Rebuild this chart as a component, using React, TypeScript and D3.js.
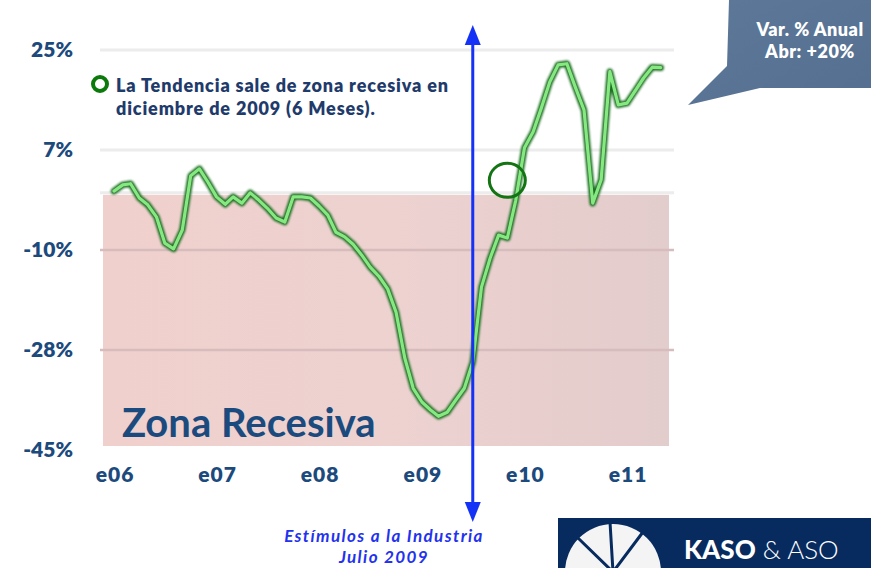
import React from "react";
import * as d3 from "d3";

const startYear = 2006;
const values: number[] = [
  0.3, 1.4, 1.6, -0.9, -2.1, -4.2, -8.8, -9.8, -6.5, 3.0, 4.2, 1.9,
  -0.7, -2.0, -0.7, -1.8, 0.0, -1.3, -2.7, -4.4, -5.1, -0.7, -0.7, -0.9,
  -2.3, -3.9, -6.9, -7.7, -9.0, -10.9, -13.0, -14.6, -16.8, -20.9, -28.9, -34.2,
  -36.6, -38.0, -39.1, -38.4, -36.3, -34.2, -29.6, -16.5, -11.4, -7.4, -7.9, -1.3,
  7.9, 10.7, 14.7, 19.4, 22.4, 22.6, 18.5, 14.5, -1.8, 2.3, 21.2, 15.4,
  15.7, 18.0, 20.1, 22.0, 21.9,
];
const yTicks: number[] = [25, 7.5, -10, -27.5, -45];
const yTickLabels: string[] = ["25%", "7%", "-10%", "-28%", "-45%"];
const xTickYears: number[] = [2006, 2007, 2008, 2009, 2010, 2011];
const xTickLabels: string[] = ["e06", "e07", "e08", "e09", "e10", "e11"];
const recessionRange: [number, number] = [0, -45];
const stimulusDate = new Date(2009, 6, 1);
const exitDate = new Date(2009, 10, 1);
const exitValue = 2.2;
const legendLines: string[] = ["La Tendencia sale de zona recesiva en", "diciembre de 2009 (6 Meses)."];
const calloutLines: string[] = ["Var. % Anual", "Abr: +20%"];
const stimulusLines: string[] = ["Estímulos a la Industria", "Julio 2009"];

export default function App() {
  const W = 871, H = 568;
  const x = d3.scaleTime().domain([new Date(2006, 0, 1), new Date(2011, 0, 1)]).range([114, 627]);
  const y = d3.scaleLinear().domain([-45, 25]).range([450, 50]);
  const data = values.map((v, i) => ({ date: new Date(startYear, i, 1), v }));
  const line = d3.line<{ date: Date; v: number }>().x((d) => x(d.date)).y((d) => y(d.v)).curve(d3.curveLinear);
  const path = line(data) || "";
  const plotL = 103, plotR = 669;
  const navy = "#1d4a7c";
  const ax = x(stimulusDate);
  const font = "Lato, 'Open Sans', sans-serif";
  return (
    <svg width={W} height={H} style={{ position: "absolute", left: 0, top: 0, background: "#fff" }} fontFamily={font}>
      <defs>
        <linearGradient id="pink" x1="0" y1="0" x2="1" y2="0">
          <stop offset="0" stopColor="#f0d0cd" />
          <stop offset="0.5" stopColor="#edd2d0" />
          <stop offset="1" stopColor="#e3cccc" />
        </linearGradient>
        <filter id="blur1" x="-5%" y="-5%" width="110%" height="110%">
          <feGaussianBlur stdDeviation="0.8" />
        </filter>
        <linearGradient id="callout" x1="0" y1="0" x2="1" y2="1">
          <stop offset="0" stopColor="#5d7898" />
          <stop offset="1" stopColor="#546f90" />
        </linearGradient>
      </defs>
      {[25, 7.5, 0].map((t) => (
        <line key={"g" + t} x1={plotL - 3} x2={plotR + 5} y1={y(t)} y2={y(t)} stroke="#ececec" strokeWidth={3} />
      ))}
      <rect x={plotL} y={y(recessionRange[0]) + 2} width={plotR - plotL} height={y(recessionRange[1]) - y(recessionRange[0]) - 6} fill="url(#pink)" />
      {[-10, -27.5].map((t) => (
        <line key={"g" + t} x1={plotL - 3} x2={plotR + 5} y1={y(t)} y2={y(t)} stroke="#d6bcbc" strokeWidth={2.5} />
      ))}
      <text x={122} y={437} fontSize={40} fontWeight={700} fill="#1b4b7e">Zona Recesiva</text>
      {yTicks.map((t, i) => (
        <text key={"y" + t} x={73} y={y(t) + 7} textAnchor="end" fontSize={21} fontWeight={800} fill={navy}>{yTickLabels[i]}</text>
      ))}
      {xTickYears.map((yr, i) => (
        <text key={"x" + yr} x={x(new Date(yr, 0, 1)) + 1} y={482} textAnchor="middle" fontSize={21} fontWeight={800} letterSpacing={1} fill={navy}>{xTickLabels[i]}</text>
      ))}
      <path d={path} fill="none" stroke="#1f6e22" strokeWidth={6.5} strokeLinejoin="round" strokeLinecap="round" filter="url(#blur1)" />
      <path d={path} fill="none" stroke="#86e881" strokeWidth={3.2} strokeLinejoin="round" strokeLinecap="round" />
      <ellipse cx={x(exitDate)} cy={y(exitValue)} rx={18} ry={17} fill="none" stroke="#137413" strokeWidth={3} />
      <line x1={ax} x2={ax} y1={42} y2={505} stroke="#1432f5" strokeWidth={3} />
      <path d={`M${ax},25 L${ax - 8},45 L${ax + 8},45 Z`} fill="#1432f5" />
      <path d={`M${ax},522 L${ax - 8},502 L${ax + 8},502 Z`} fill="#1432f5" />
      {stimulusLines.map((s, i) => (
        <text key={s} x={384} y={542 + i * 21} textAnchor="middle" fontSize={17} fontStyle="italic" fontWeight={700} letterSpacing={1.4} fill="#2232ee">{s}</text>
      ))}
      <circle cx={100} cy={84} r={7} fill="none" stroke="#0b7a0b" strokeWidth={4} />
      {legendLines.map((s, i) => (
        <text key={s} x={116} y={92 + i * 23} fontSize={18} fontWeight={800} letterSpacing={0.85} fill="#1f3b6b">{s}</text>
      ))}
      <path d="M729,0 L871,0 L871,88 L760,88 L688,105 L727,66 Z" fill="url(#callout)" />
      {calloutLines.map((s, i) => (
        <text key={s} x={810} y={36 + i * 22} textAnchor="middle" fontSize={18} fontWeight={800} letterSpacing={0.5} fill="#ffffff">{s}</text>
      ))}
      <rect x={558} y={518} width={313} height={50} fill="#082b5f" />
      <circle cx={613} cy={572} r={48} fill="#f4f4f4" />
      <path d="M613,572 L578,538 M613,572 L610,522 M613,572 L643,532" stroke="#082b5f" strokeWidth={3} />
      <text x={684} y={559} fontSize={26} fill="#ffffff">
        <tspan fontWeight={900}>KASO</tspan>
        <tspan fontWeight={300}> &amp; ASO</tspan>
      </text>
    </svg>
  );
}
